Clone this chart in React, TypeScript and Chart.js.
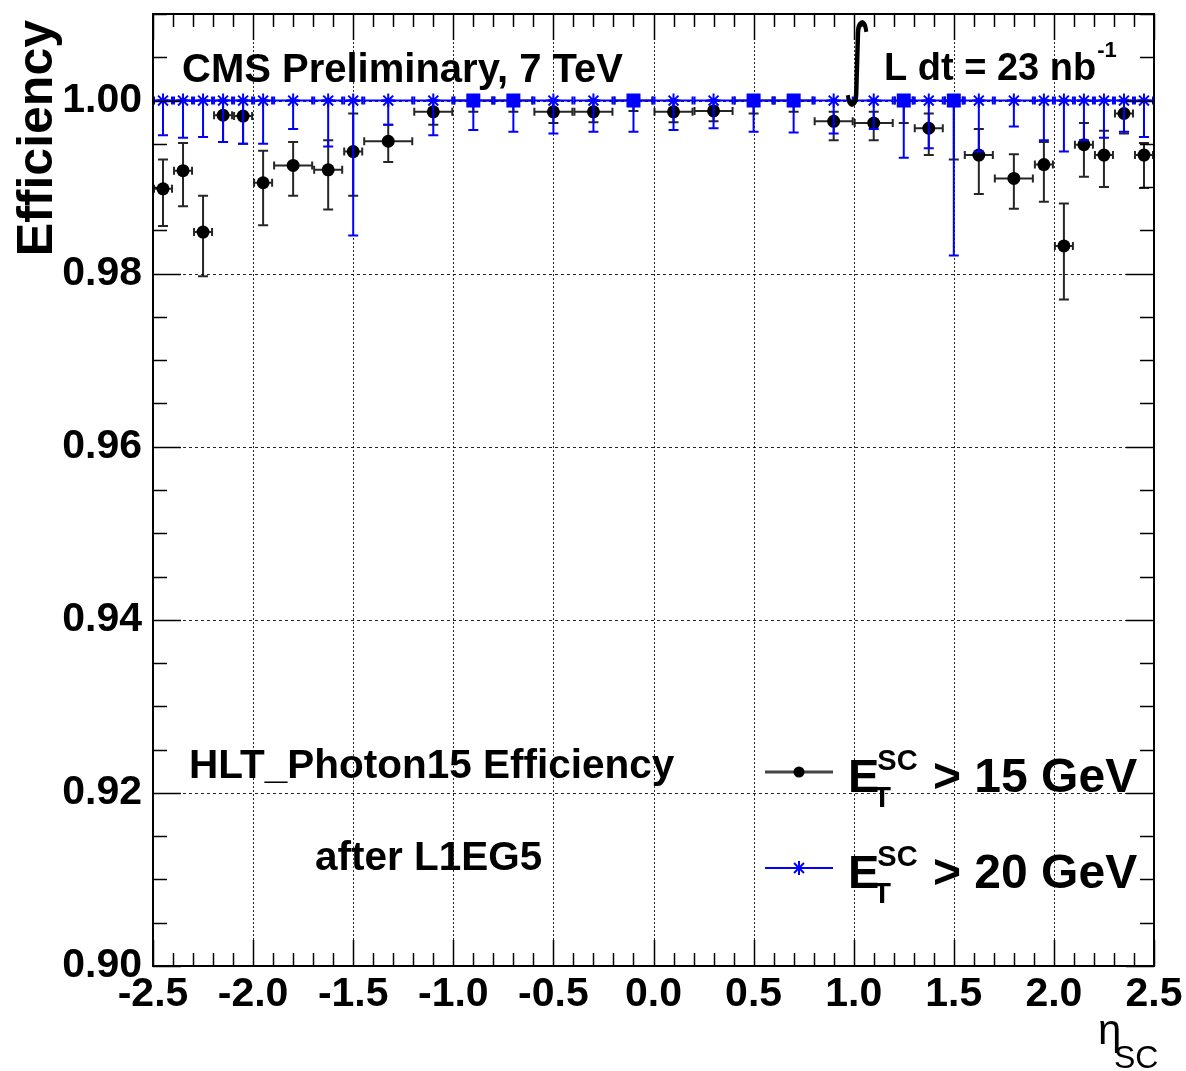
import React, { useEffect, useRef } from 'react';
import { Chart, registerables } from 'chart.js';
Chart.register(...registerables);

// eta bins (super-cluster pseudorapidity)
const binLow = [-2.5, -2.4, -2.3, -2.2, -2.1, -2.0, -1.9, -1.7, -1.55, -1.45, -1.2, -1.0, -0.8, -0.6, -0.4, -0.2, 0.0, 0.2, 0.4, 0.6, 0.8, 1.0, 1.2, 1.3, 1.45, 1.55, 1.7, 1.9, 2.0, 2.1, 2.2, 2.3, 2.4];
const binHigh = [-2.4, -2.3, -2.2, -2.1, -2.0, -1.9, -1.7, -1.55, -1.45, -1.2, -1.0, -0.8, -0.6, -0.4, -0.2, 0.0, 0.2, 0.4, 0.6, 0.8, 1.0, 1.2, 1.3, 1.45, 1.55, 1.7, 1.9, 2.0, 2.1, 2.2, 2.3, 2.4, 2.5];
const etaCenter = [-2.45, -2.35, -2.25, -2.15, -2.05, -1.95, -1.8, -1.625, -1.5, -1.325, -1.1, -0.9, -0.7, -0.5, -0.3, -0.1, 0.1, 0.3, 0.5, 0.7, 0.9, 1.1, 1.25, 1.375, 1.5, 1.625, 1.8, 1.95, 2.05, 2.15, 2.25, 2.35, 2.45];

// E_T^SC > 15 GeV
const eff15 = [0.9898, 0.9919, 0.9848, 0.9983, 0.9982, 0.9905, 0.9925, 0.9920, 0.9941, 0.9953, 0.9987, 1.0, 1.0, 0.9987, 0.9987, 1.0, 0.9987, 0.9988, 1.0, 1.0, 0.9976, 0.9974, 1.0, 0.9968, 1.0, 0.9937, 0.9910, 0.9926, 0.9832, 0.9949, 0.9937, 0.9985, 0.9937];
const eff15Low = [0.9855, 0.9878, 0.9797, 0.9952, 0.9950, 0.9856, 0.9890, 0.9874, 0.9890, 0.9929, 0.9972, 0.9987, 0.9987, 0.9974, 0.9975, 0.9988, 0.9975, 0.9976, 0.9985, 0.9987, 0.9954, 0.9954, 0.9974, 0.9937, 0.9932, 0.9892, 0.9875, 0.9883, 0.9770, 0.9912, 0.9900, 0.9962, 0.9899];
const eff15High = [0.9932, 0.9951, 0.9890, 1.0, 1.0, 0.9942, 0.9952, 0.9954, 0.9985, 0.9972, 1.0, 1.0, 1.0, 1.0, 1.0, 1.0, 1.0, 1.0, 1.0, 1.0, 0.9987, 0.9987, 1.0, 0.9985, 1.0, 0.9967, 0.9938, 0.9952, 0.9881, 0.9974, 0.9965, 1.0, 0.9951];

// E_T^SC > 20 GeV
const eff20 = [1.0, 1.0, 1.0, 1.0, 1.0, 1.0, 1.0, 1.0, 1.0, 1.0, 1.0, 1.0, 1.0, 1.0, 1.0, 1.0, 1.0, 1.0, 1.0, 1.0, 1.0, 1.0, 1.0, 1.0, 1.0, 1.0, 1.0, 1.0, 1.0, 1.0, 1.0, 1.0, 1.0];
const eff20Low = [0.9960, 0.9957, 0.9958, 0.9952, 0.9950, 0.9950, 0.9967, 0.9947, 0.9844, 0.9972, 0.9960, 0.9966, 0.9964, 0.9962, 0.9964, 0.9964, 0.9966, 0.9968, 0.9964, 0.9963, 0.9962, 0.9967, 0.9934, 0.9945, 0.9821, 0.9941, 0.9970, 0.9954, 0.9941, 0.9954, 0.9957, 0.9964, 0.9958];
const eff20High = [1.0, 1.0, 1.0, 1.0, 1.0, 1.0, 1.0, 1.0, 1.0, 1.0, 1.0, 1.0, 1.0, 1.0, 1.0, 1.0, 1.0, 1.0, 1.0, 1.0, 1.0, 1.0, 1.0, 1.0, 1.0, 1.0, 1.0, 1.0, 1.0, 1.0, 1.0, 1.0, 1.0];

const xRange = [-2.5, 2.5];
const yRange = [0.9, 1.01];
const xStep = 0.5;
const yStep = 0.02;
const xMinorStep = 0.1;
const yMinorStep = 0.005;

const FONT = '"Liberation Sans", Arial, Helvetica, sans-serif';
const BLUE = '#0000ff';

function bold(size: number) {
  return `bold ${size}px ${FONT}`;
}

const plot = {
  id: 'rootStyle',
  beforeDatasetsDraw(chart: any) {
    const { ctx, chartArea: a, scales } = chart;
    const x = scales.x, y = scales.y;
    ctx.save();
    ctx.strokeStyle = 'rgba(0,0,0,0.85)';
    ctx.lineWidth = 1;
    ctx.setLineDash([2, 2]);
    for (const t of x.ticks) {
      const px = Math.round(x.getPixelForValue(t.value)) + 0.5;
      if (px <= a.left + 2 || px >= a.right - 2) continue;
      ctx.beginPath(); ctx.moveTo(px, a.top); ctx.lineTo(px, a.bottom); ctx.stroke();
    }
    ctx.setLineDash([3, 3]);
    for (const t of y.ticks) {
      const py = Math.round(y.getPixelForValue(t.value)) + 0.5;
      if (py <= a.top + 2 || py >= a.bottom - 2) continue;
      ctx.beginPath(); ctx.moveTo(a.left, py); ctx.lineTo(a.right, py); ctx.stroke();
    }
    ctx.restore();
  },
  beforeDatasetDraw(chart: any, args: any) {
    const ds = chart.data.datasets[args.index];
    const { ctx, chartArea: a, scales } = chart;
    const x = scales.x, y = scales.y;
    ctx.save();
    ctx.beginPath();
    ctx.rect(a.left, a.top, a.right - a.left, a.bottom - a.top);
    ctx.clip();
    ctx.strokeStyle = ds.errColor;
    ctx.lineWidth = 2;
    const vals = ds.yVals as number[];
    for (let i = 0; i < vals.length; i++) {
      const py = y.getPixelForValue(vals[i]);
      const x0 = x.getPixelForValue(ds.xLow[i]);
      const x1 = x.getPixelForValue(ds.xHigh[i]);
      ctx.beginPath();
      ctx.moveTo(x0, py); ctx.lineTo(x1, py);
      ctx.moveTo(x0 + 1, py - 4); ctx.lineTo(x0 + 1, py + 4);
      ctx.moveTo(x1 - 1, py - 4); ctx.lineTo(x1 - 1, py + 4);
      ctx.stroke();
      const px = x.getPixelForValue(etaCenter[i]);
      const yl = y.getPixelForValue(ds.yLow[i]);
      const yh = y.getPixelForValue(ds.yHigh[i]);
      if (yl - yh > 0.5) {
        ctx.beginPath();
        ctx.moveTo(px, yl); ctx.lineTo(px, yh);
        ctx.moveTo(px - 5, yl); ctx.lineTo(px + 5, yl);
        ctx.moveTo(px - 5, yh); ctx.lineTo(px + 5, yh);
        ctx.stroke();
      }
    }
    ctx.restore();
  },
  afterDatasetsDraw(chart: any) {
    const { ctx, chartArea: a, scales } = chart;
    const x = scales.x, y = scales.y;
    ctx.save();
    // frame
    ctx.strokeStyle = '#000';
    ctx.lineWidth = 2;
    ctx.strokeRect(a.left, a.top, a.right - a.left, a.bottom - a.top);
    // ticks
    ctx.lineWidth = 1.5;
    ctx.beginPath();
    const nx = Math.round((xRange[1] - xRange[0]) / xMinorStep);
    for (let k = 0; k <= nx; k++) {
      const v = xRange[0] + k * xMinorStep;
      const major = k % Math.round(xStep / xMinorStep) === 0;
      const len = major ? 26 : 13;
      const px = Math.round(x.getPixelForValue(v)) + 0.5;
      ctx.moveTo(px, a.bottom); ctx.lineTo(px, a.bottom - len);
      ctx.moveTo(px, a.top); ctx.lineTo(px, a.top + len);
    }
    const ny = Math.round((yRange[1] - yRange[0]) / yMinorStep);
    for (let k = 0; k <= ny; k++) {
      const v = yRange[0] + k * yMinorStep;
      const major = k % Math.round(yStep / yMinorStep) === 0;
      const len = major ? 28 : 14;
      const py = Math.round(y.getPixelForValue(v)) + 0.5;
      ctx.moveTo(a.left, py); ctx.lineTo(a.left + len, py);
      ctx.moveTo(a.right, py); ctx.lineTo(a.right - len, py);
    }
    ctx.stroke();

    ctx.fillStyle = '#000';
    ctx.textAlign = 'left';
    ctx.textBaseline = 'alphabetic';
    // header texts
    ctx.font = bold(40);
    ctx.fillText('CMS Preliminary, 7 TeV', 182, 82);
    // integral
    ctx.save();
    ctx.translate(857, 88);
    ctx.scale(1.1, 1.8);
    ctx.font = `50px "DejaVu Sans", sans-serif`;
    ctx.textAlign = 'center';
    ctx.fillText('\u222B', 0, 0);
    ctx.restore();
    ctx.font = bold(38);
    ctx.fillText('L dt = 23 nb', 884, 80);
    const wl = ctx.measureText('L dt = 23 nb').width;
    ctx.font = bold(22);
    ctx.fillText('-1', 884 + wl + 1, 57);

    ctx.font = bold(40.5);
    ctx.fillText('HLT_Photon15 Efficiency', 189, 778);
    ctx.font = bold(40.5);
    ctx.fillText('after L1EG5', 315, 870);

    // legend
    const rows = [
      { y: 772, lw: 3, line: '#444', marker: 'dot', text: '> 15 GeV' },
      { y: 868, lw: 2, line: BLUE, marker: 'star', text: '> 20 GeV' },
    ];
    for (const r of rows) {
      ctx.strokeStyle = r.line;
      ctx.lineWidth = r.lw;
      ctx.beginPath(); ctx.moveTo(765, r.y); ctx.lineTo(833, r.y); ctx.stroke();
      if (r.marker === 'dot') {
        ctx.fillStyle = '#000';
        ctx.beginPath(); ctx.arc(799, r.y, 5.5, 0, Math.PI * 2); ctx.fill();
      } else {
        ctx.strokeStyle = BLUE; ctx.lineWidth = 2;
        ctx.beginPath();
        const s = 7;
        ctx.moveTo(799 - s, r.y); ctx.lineTo(799 + s, r.y);
        ctx.moveTo(799, r.y - s); ctx.lineTo(799, r.y + s);
        const d = s * 0.707;
        ctx.moveTo(799 - d, r.y - d); ctx.lineTo(799 + d, r.y + d);
        ctx.moveTo(799 - d, r.y + d); ctx.lineTo(799 + d, r.y - d);
        ctx.stroke();
      }
      ctx.fillStyle = '#000';
      const base = r.y + 20;
      ctx.font = bold(47);
      ctx.fillText('E', 848, base);
      const we = ctx.measureText('E').width;
      ctx.font = bold(29);
      ctx.fillText('SC', 848 + we - 2, base - 22);
      ctx.fillText('T', 848 + we - 6, base + 15);
      ctx.font = bold(48);
      ctx.fillText(r.text, 933, base);
    }

    // axis titles
    ctx.save();
    ctx.translate(52, 20);
    ctx.rotate(-Math.PI / 2);
    ctx.textAlign = 'right';
    ctx.font = bold(50);
    ctx.fillText('Efficiency', 0, 0);
    ctx.restore();

    ctx.font = `42px ${FONT}`;
    ctx.fillText('\u03B7', 1098, 1044);
    ctx.font = `32px ${FONT}`;
    ctx.fillText('SC', 1114, 1068);
    ctx.restore();
  },
};

export default function App() {
  const ref = useRef<HTMLCanvasElement>(null);
  useEffect(() => {
    document.body.style.margin = '0';
    const tickFont = { family: FONT, weight: 'bold' as const, size: 41 };
    const chart = new Chart(ref.current!, {
      type: 'scatter',
      data: {
        datasets: [
          {
            label: 'E_T^SC > 20 GeV',
            data: etaCenter.map((e, i) => ({ x: e, y: eff20[i] })),
            order: 0,
            showLine: false,
            pointStyle: eff15.map((v) => (v >= 1 ? 'rect' : 'star')) as any,
            pointRadius: eff15.map((v) => (v >= 1 ? 8.5 : 7)),
            pointBorderWidth: 2,
            borderColor: BLUE,
            backgroundColor: BLUE,
            errColor: BLUE,
            yVals: eff20,
            yLow: eff20Low,
            yHigh: eff20High,
            xLow: binLow,
            xHigh: binHigh,
          } as any,
          {
            label: 'E_T^SC > 15 GeV',
            data: etaCenter.map((e, i) => ({ x: e, y: eff15[i] })),
            order: 1,
            showLine: false,
            pointStyle: 'circle',
            pointRadius: eff15.map((v) => (v >= 1 ? 0 : 6.5)),
            pointBorderWidth: 0,
            borderColor: '#000',
            backgroundColor: '#000',
            errColor: 'rgba(0,0,0,0.85)',
            yVals: eff15,
            yLow: eff15Low,
            yHigh: eff15High,
            xLow: binLow,
            xHigh: binHigh,
          } as any,
        ],
      },
      options: {
        animation: false,
        responsive: false,
        events: [],
        layout: { padding: { left: 0, top: 14, right: 32, bottom: 0 } },
        plugins: { legend: { display: false }, tooltip: { enabled: false } },
        scales: {
          x: {
            type: 'linear',
            min: xRange[0],
            max: xRange[1],
            afterFit: (s: any) => { s.height = 105; s.paddingLeft = 0; s.paddingRight = 0; },
            ticks: {
              stepSize: xStep,
              autoSkip: false,
              maxRotation: 0,
              padding: 4,
              color: '#000',
              font: tickFont,
              callback: (v: any) => Number(v).toFixed(1),
            },
            grid: { display: false, drawTicks: false },
            border: { display: false },
          },
          y: {
            type: 'linear',
            min: yRange[0],
            max: yRange[1],
            afterFit: (s: any) => { s.width = 153; s.paddingTop = 0; s.paddingBottom = 0; },
            ticks: {
              stepSize: yStep,
              includeBounds: false,
              padding: 11,
              color: '#000',
              font: tickFont,
              callback: (v: any) => Number(v).toFixed(2),
            },
            grid: { display: false, drawTicks: false },
            border: { display: false },
          },
        },
      },
      plugins: [plot],
    });
    return () => chart.destroy();
  }, []);
  return (
    <div style={{ width: 1186, height: 1071 }}>
      <canvas ref={ref} width={1186} height={1071} style={{ display: 'block', width: 1186, height: 1071 }} />
    </div>
  );
}
